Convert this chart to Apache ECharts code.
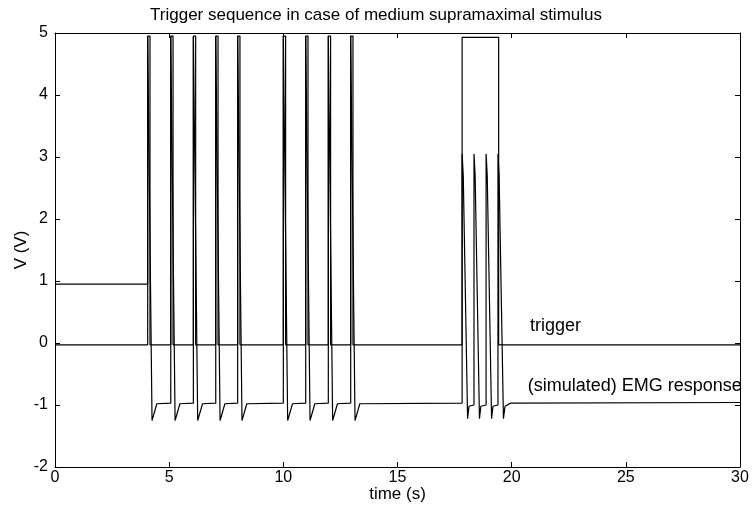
<!DOCTYPE html>
<html>
<head>
<meta charset="utf-8">
<script src="https://cdn.jsdelivr.net/npm/echarts@6/dist/echarts.min.js"></script>
<style>
html,body{margin:0;padding:0;background:#fff;}
#chart{width:752px;height:505px;}
</style>
</head>
<body>
<div id="chart"></div>
<script>
// Axis ticks
var xTicks = [0, 5, 10, 15, 20, 25, 30];
var yTicks = [-2, -1, 0, 1, 2, 3, 4, 5];

// Trigger signal [time (s), V]
var triggerData = [
  [0, -0.03],
  [4.06, -0.03], [4.06, 4.95], [4.16, 4.95], [4.16, -0.03],
  [5.07, -0.03], [5.07, 4.95], [5.17, 4.95], [5.17, -0.03],
  [6.06, -0.03], [6.06, 4.95], [6.16, 4.95], [6.16, -0.03],
  [7.04, -0.03], [7.04, 4.95], [7.14, 4.95], [7.14, -0.03],
  [8.00, -0.03], [8.00, 4.95], [8.10, 4.95], [8.10, -0.03],
  [10.00, -0.03], [10.00, 4.95], [10.10, 4.95], [10.10, -0.03],
  [10.98, -0.03], [10.98, 4.95], [11.08, 4.95], [11.08, -0.03],
  [11.97, -0.03], [11.97, 4.95], [12.07, 4.95], [12.07, -0.03],
  [12.95, -0.03], [12.95, 4.95], [13.05, 4.95], [13.05, -0.03],
  [17.83, -0.03], [17.83, 4.93], [19.43, 4.93], [19.43, -0.03],
  [30, -0.03]
];

// Simulated EMG response [time (s), V]
var emgData = [
  [0, 0.95],
  [4.06, 0.95], [4.06, 4.95], [4.14, 4.95], [4.25, -1.25], [4.46, -0.98],
  [5.07, -0.97], [5.07, 4.95], [5.15, 4.95], [5.26, -1.25], [5.47, -0.98],
  [6.06, -0.97], [6.06, 4.95], [6.14, 4.95], [6.25, -1.25], [6.46, -0.98],
  [7.04, -0.97], [7.04, 4.95], [7.12, 4.95], [7.23, -1.25], [7.44, -0.98],
  [8.00, -0.97], [8.00, 4.95], [8.08, 4.95], [8.19, -1.25], [8.40, -0.98],
  [10.00, -0.97], [10.00, 4.95], [10.08, 4.95], [10.19, -1.25], [10.40, -0.98],
  [10.98, -0.97], [10.98, 4.95], [11.06, 4.95], [11.17, -1.25], [11.38, -0.98],
  [11.97, -0.97], [11.97, 4.95], [12.05, 4.95], [12.16, -1.25], [12.37, -0.98],
  [12.95, -0.97], [12.95, 4.95], [13.03, 4.95], [13.14, -1.25], [13.35, -0.98],
  [17.83, -0.97], [17.83, 3.05], [17.88, 2.7], [18.07, -1.22], [18.13, -1.02],
  [18.35, -1.0], [18.35, 3.05], [18.40, 2.7], [18.59, -1.22], [18.65, -1.02],
  [18.88, -1.0], [18.88, 3.05], [18.93, 2.7], [19.12, -1.22], [19.18, -1.02],
  [19.40, -1.0], [19.40, 3.05], [19.45, 2.7], [19.64, -1.22], [19.71, -1.02],
  [19.95, -0.97], [30, -0.96]
];

// Text annotations [time, V, text]
var annotations = [
  [20.8, 0.27, 'trigger'],
  [20.7, -0.69, '(simulated) EMG response']
];

var FONT = '"Liberation Sans", Arial, Helvetica, sans-serif';
var chart = echarts.init(document.getElementById('chart'), null, {renderer: 'canvas'});

var axisCommon = {
  axisLine: {show: true, onZero: false, lineStyle: {color: '#000', width: 1}},
  axisTick: {show: true, inside: true, length: 5, lineStyle: {color: '#000'}},
  splitLine: {show: false}
};

chart.setOption({
  animation: false,
  backgroundColor: '#fff',
  title: {
    text: 'Trigger sequence in case of medium supramaximal stimulus',
    left: 'center',
    top: 2,
    textStyle: {fontFamily: FONT, fontSize: 17, fontWeight: 'normal', color: '#000'}
  },
  grid: {left: 55, right: 12, top: 33, bottom: 38, containLabel: false, outerBoundsMode: 'none'},
  xAxis: [
    Object.assign({}, axisCommon, {
      type: 'value', min: xTicks[0], max: xTicks[xTicks.length - 1], interval: 5,
      position: 'bottom',
      name: 'time (s)', nameLocation: 'middle', nameGap: 19, nameMoveOverlap: false,
      nameTextStyle: {fontFamily: FONT, fontSize: 17, color: '#000'},
      axisLabel: {fontFamily: FONT, fontSize: 16, color: '#000', margin: 3}
    }),
    Object.assign({}, axisCommon, {
      type: 'value', min: xTicks[0], max: xTicks[xTicks.length - 1], interval: 5,
      position: 'top', axisLabel: {show: false}
    })
  ],
  yAxis: [
    Object.assign({}, axisCommon, {
      type: 'value', min: yTicks[0], max: yTicks[yTicks.length - 1], interval: 1,
      position: 'left',
      name: 'V (V)', nameLocation: 'middle', nameGap: 25, nameRotate: 90, nameMoveOverlap: false,
      nameTextStyle: {fontFamily: FONT, fontSize: 17, color: '#000'},
      axisLabel: {fontFamily: FONT, fontSize: 16, color: '#000', margin: 7}
    }),
    Object.assign({}, axisCommon, {
      type: 'value', min: yTicks[0], max: yTicks[yTicks.length - 1], interval: 1,
      position: 'right', axisLabel: {show: false}
    })
  ],
  series: [
    {
      name: 'trigger', type: 'line', data: triggerData,
      showSymbol: false, symbol: 'none', clip: true,
      lineStyle: {color: '#000', width: 1.2}
    },
    {
      name: 'EMG', type: 'line', data: emgData,
      showSymbol: false, symbol: 'none', clip: true,
      lineStyle: {color: '#000', width: 1.2}
    },
    {
      name: 'labels', type: 'scatter', symbolSize: 0, clip: false,
      data: annotations.map(function (a) { return {value: [a[0], a[1]], name: a[2]}; }),
      label: {
        show: true, position: 'right', distance: 0,
        formatter: function (p) { return p.name; },
        fontFamily: FONT, fontSize: 18, color: '#000', opacity: 1
      },
      itemStyle: {opacity: 1},
      silent: true, z: 10
    }
  ]
});
</script>
</body>
</html>
